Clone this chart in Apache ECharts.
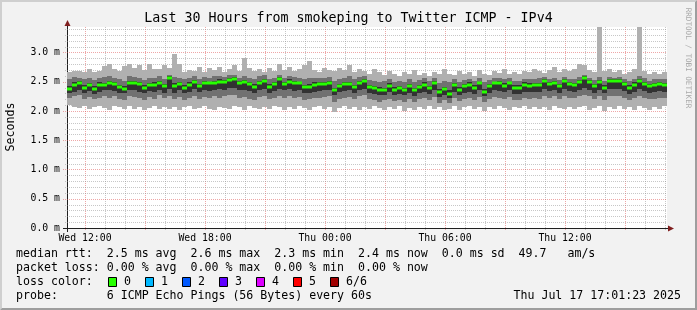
<!DOCTYPE html>
<html>
<head>
<meta charset="utf-8">
<script src="https://cdn.jsdelivr.net/npm/echarts@6/dist/echarts.min.js"></script>
<style>
html,body{margin:0;padding:0;background:#f2f2f2;}
#c{width:697px;height:310px;}
</style>
</head>
<body>
<div id="c"></div>
<script>
// ---- data: 120 columns of 15 minutes, values in milliseconds ----
const pingMin = [
2.10,2.06,2.05,2.08,2.04,2.07,2.09,2.05,2.02,2.08,
2.06,2.04,2.09,2.03,2.07,2.01,2.05,2.08,2.03,2.06,
2.04,2.07,2.02,2.06,2.08,2.03,2.05,2.09,2.04,2.01,
2.07,2.05,2.03,2.08,2.06,2.02,2.09,2.05,2.03,2.07,
2.04,2.08,2.06,2.02,2.07,2.04,2.09,2.05,2.01,2.06,
2.08,2.03,2.06,1.99,2.05,2.08,2.03,2.07,2.02,2.06,
2.04,2.09,2.05,2.01,2.07,2.03,2.08,2.00,2.05,2.02,
2.07,2.04,2.09,2.03,2.06,2.01,2.04,2.08,2.02,2.06,
2.09,2.03,2.06,2.00,2.07,2.04,2.08,2.05,2.02,2.07,
2.05,2.09,2.03,2.07,2.04,2.06,2.01,2.08,2.05,2.03,
2.07,2.04,2.06,2.09,2.02,2.05,2.08,2.00,2.06,2.03,
2.08,2.04,2.07,2.02,2.09,2.05,2.01,2.06,2.04,2.08];
const ping2 = [
2.22,2.25,2.27,2.21,2.24,2.20,2.23,2.26,2.22,2.25,
2.21,2.19,2.26,2.24,2.22,2.18,2.24,2.21,2.27,2.22,
2.26,2.20,2.24,2.19,2.23,2.26,2.21,2.24,2.22,2.25,
2.23,2.25,2.27,2.28,2.23,2.24,2.21,2.19,2.24,2.26,
2.20,2.23,2.26,2.22,2.25,2.22,2.24,2.19,2.20,2.23,
2.22,2.24,2.25,2.16,2.21,2.23,2.24,2.20,2.25,2.27,
2.20,2.18,2.16,2.19,2.21,2.17,2.19,2.16,2.20,2.15,
2.20,2.22,2.18,2.24,2.14,2.18,2.13,2.22,2.17,2.20,
2.22,2.18,2.24,2.15,2.20,2.24,2.23,2.21,2.24,2.18,
2.19,2.22,2.21,2.23,2.21,2.26,2.23,2.25,2.20,2.26,
2.23,2.22,2.25,2.28,2.25,2.20,2.25,2.19,2.26,2.25,
2.26,2.23,2.18,2.22,2.26,2.23,2.20,2.21,2.23,2.22];
const ping3 = [
2.30,2.33,2.36,2.31,2.34,2.29,2.33,2.35,2.36,2.34,
2.31,2.30,2.36,2.35,2.33,2.30,2.34,2.32,2.36,2.31,
2.38,2.31,2.35,2.30,2.33,2.37,2.32,2.35,2.34,2.36,
2.37,2.36,2.39,2.40,2.35,2.36,2.34,2.31,2.36,2.38,
2.31,2.34,2.38,2.35,2.37,2.34,2.35,2.30,2.31,2.33,
2.34,2.35,2.36,2.27,2.32,2.34,2.35,2.31,2.36,2.38,
2.31,2.29,2.27,2.28,2.32,2.27,2.29,2.27,2.31,2.26,
2.31,2.33,2.29,2.35,2.24,2.28,2.22,2.33,2.27,2.31,
2.33,2.29,2.35,2.25,2.31,2.35,2.34,2.32,2.35,2.29,
2.29,2.33,2.32,2.33,2.32,2.38,2.34,2.36,2.31,2.37,
2.34,2.33,2.36,2.40,2.36,2.31,2.36,2.30,2.37,2.37,
2.38,2.34,2.29,2.33,2.38,2.34,2.31,2.32,2.34,2.33];
const ping4 = [
2.43,2.49,2.51,2.45,2.48,2.42,2.49,2.48,2.51,2.50,
2.45,2.42,2.51,2.52,2.50,2.45,2.48,2.49,2.52,2.46,
2.59,2.47,2.49,2.45,2.49,2.53,2.46,2.51,2.50,2.51,
2.54,2.53,2.56,2.58,2.51,2.53,2.50,2.46,2.52,2.55,
2.46,2.50,2.58,2.50,2.54,2.51,2.50,2.45,2.46,2.49,
2.50,2.49,2.51,2.40,2.46,2.50,2.49,2.45,2.52,2.55,
2.45,2.43,2.41,2.40,2.47,2.41,2.43,2.40,2.46,2.40,
2.45,2.49,2.43,2.51,2.38,2.41,2.35,2.48,2.41,2.46,
2.49,2.44,2.50,2.38,2.46,2.50,2.51,2.47,2.50,2.44,
2.44,2.49,2.47,2.48,2.48,2.54,2.50,2.52,2.46,2.54,
2.50,2.48,2.53,2.59,2.53,2.46,2.53,2.45,2.54,2.55,
2.54,2.50,2.44,2.49,2.55,2.50,2.46,2.48,2.50,2.48];
const ping5 = [
2.55,2.58,2.56,2.54,2.57,2.53,2.56,2.58,2.60,2.57,
2.54,2.52,2.60,2.58,2.57,2.53,2.56,2.57,2.59,2.55,
2.62,2.58,2.57,2.54,2.56,2.60,2.55,2.58,2.57,2.59,
2.60,2.58,2.61,2.62,2.57,2.60,2.56,2.54,2.59,2.61,
2.55,2.57,2.62,2.57,2.60,2.58,2.57,2.54,2.56,2.57,
2.57,2.56,2.58,2.52,2.55,2.57,2.59,2.54,2.58,2.60,
2.53,2.52,2.50,2.52,2.54,2.50,2.52,2.50,2.54,2.49,
2.53,2.56,2.51,2.57,2.48,2.52,2.50,2.55,2.50,2.53,
2.55,2.52,2.56,2.49,2.53,2.56,2.57,2.54,2.56,2.52,
2.51,2.55,2.54,2.55,2.56,2.58,2.55,2.57,2.53,2.58,
2.55,2.54,2.58,2.61,2.57,2.53,2.58,2.52,2.58,2.57,
2.58,2.55,2.51,2.55,2.59,2.56,2.52,2.54,2.55,2.55];
const pingMax = [
2.66,2.69,2.69,2.66,2.72,2.66,2.68,2.76,2.80,2.71,
2.69,2.76,2.80,2.73,2.79,2.70,2.80,2.72,2.71,2.78,
2.74,2.98,2.80,2.67,2.70,2.68,2.75,2.66,2.73,2.70,
2.75,2.66,2.72,2.78,2.69,2.90,2.74,2.68,2.71,2.66,
2.73,2.69,2.81,2.70,2.75,2.68,2.72,2.78,2.86,2.70,
2.67,2.73,2.70,2.68,2.74,2.70,2.78,2.66,2.72,2.69,
2.64,2.71,2.66,2.62,2.68,2.64,2.60,2.66,2.63,2.70,
2.62,2.65,2.60,2.67,2.63,2.72,2.64,2.61,2.68,2.63,
2.66,2.60,2.70,2.64,2.62,2.68,2.65,2.71,2.63,2.67,
2.64,2.69,2.66,2.72,2.68,2.65,2.70,2.75,2.67,2.72,
2.68,2.71,2.81,2.78,2.70,2.66,3.60,2.68,2.72,2.66,
2.70,2.64,2.67,2.71,3.60,2.68,2.63,2.66,2.64,2.67];
const median = [
2.38,2.45,2.48,2.40,2.44,2.37,2.45,2.45,2.47,2.46,
2.41,2.37,2.48,2.48,2.46,2.40,2.45,2.45,2.48,2.42,
2.56,2.42,2.46,2.40,2.45,2.50,2.42,2.47,2.47,2.47,
2.50,2.50,2.53,2.55,2.47,2.49,2.46,2.41,2.48,2.52,
2.41,2.46,2.55,2.46,2.50,2.47,2.47,2.41,2.41,2.45,
2.46,2.46,2.47,2.35,2.42,2.46,2.46,2.41,2.48,2.52,
2.41,2.39,2.36,2.36,2.43,2.36,2.39,2.36,2.42,2.35,
2.41,2.45,2.39,2.48,2.32,2.37,2.29,2.45,2.36,2.42,
2.45,2.39,2.47,2.33,2.42,2.47,2.47,2.43,2.47,2.39,
2.39,2.45,2.43,2.44,2.44,2.51,2.46,2.48,2.42,2.51,
2.46,2.44,2.49,2.56,2.49,2.42,2.49,2.40,2.51,2.51,
2.51,2.46,2.39,2.45,2.52,2.46,2.42,2.44,2.46,2.44];

const xTickLabels = ['Wed 12:00', 'Wed 18:00', 'Thu 00:00', 'Thu 06:00', 'Thu 12:00'];
const lossLabels = ['0', '1', '2', '3', '4', '5', '6/6'];
const lossColors = ['#26ff00', '#00b8ff', '#0059ff', '#5e00ff', '#dd00ff', '#ff0000', '#a10000'];
const titleText = 'Last 30 Hours from smokeping to Twitter ICMP - IPv4';
const legendLines = [
  'median rtt:  2.5 ms avg  2.6 ms max  2.3 ms min  2.4 ms now  0.0 ms sd  49.7   am/s',
  'packet loss: 0.00 % avg  0.00 % max  0.00 % min  0.00 % now',
  'loss color:',
  'probe:       6 ICMP Echo Pings (56 Bytes) every 60s'
];
const stampText = 'Thu Jul 17 17:01:23 2025';

// ---- chart ----
const MONO = '"DejaVu Sans Mono", monospace';
const COLS = median.length;           // 15-minute columns
const firstLabelQ = 3.6;              // Wed 12:00 sits 54 min after the graph start
const yMax = 3.435;

const smokeData = median.map((m, i) => [i, pingMin[i], ping2[i], ping3[i], ping4[i], ping5[i], pingMax[i], m]);

const gridData = [];
for (let h = 0; h < 30; h++) {
  const q = firstLabelQ + h * 4;
  if (q < COLS) gridData.push([q, 0, 0, h % 3 === 0 ? 1 : 0]);
}
for (let j = 1; j * 0.1 < yMax; j++) gridData.push([0, +(j * 0.1).toFixed(1), 1, j % 5 === 0 ? 1 : 0]);

const chart = echarts.init(document.getElementById('c'), null, {renderer: 'canvas', width: 697, height: 310});

const graphics = [];
// 3D border
graphics.push({type: 'polygon', shape: {points: [[0,0],[697,0],[695,2],[2,2],[2,308],[0,310]]}, style: {fill: '#cfcfcf'}, silent: true});
graphics.push({type: 'polygon', shape: {points: [[697,0],[697,310],[0,310],[2,308],[695,308],[695,2]]}, style: {fill: '#9e9e9e'}, silent: true});
// title
graphics.push({type: 'text', x: 348.5, y: 18.5, style: {text: titleText, font: '13.3px ' + MONO, fill: '#000', align: 'center', verticalAlign: 'middle'}, silent: true});
// unit label
graphics.push({type: 'text', x: 11, y: 127, rotation: Math.PI / 2, style: {text: 'Seconds', font: '11.6px ' + MONO, fill: '#000', align: 'center', verticalAlign: 'middle'}, silent: true});
// watermark
graphics.push({type: 'text', x: 688, y: 58, rotation: -Math.PI / 2, style: {text: 'RRDTOOL / TOBI OETIKER', font: '7.6px ' + MONO, fill: '#aaaaaa', align: 'center', verticalAlign: 'middle'}, silent: true});
// axis extensions and arrows
graphics.push({type: 'line', shape: {x1: 67.5, y1: 24, x2: 67.5, y2: 27}, style: {stroke: '#1f1f1f', lineWidth: 1}, silent: true});
graphics.push({type: 'line', shape: {x1: 63, y1: 228.5, x2: 67, y2: 228.5}, style: {stroke: '#1f1f1f', lineWidth: 1}, silent: true});
graphics.push({type: 'line', shape: {x1: 67.5, y1: 228, x2: 67.5, y2: 232}, style: {stroke: '#1f1f1f', lineWidth: 1}, silent: true});
graphics.push({type: 'line', shape: {x1: 667, y1: 228.5, x2: 670, y2: 228.5}, style: {stroke: '#1f1f1f', lineWidth: 1}, silent: true});
graphics.push({type: 'polygon', shape: {points: [[67.5,20],[64.5,26],[70.5,26]]}, style: {fill: '#801f1f'}, silent: true});
graphics.push({type: 'polygon', shape: {points: [[674,228.5],[668,225.5],[668,231.5]]}, style: {fill: '#801f1f'}, silent: true});
// legend lines
const rowY = [254, 268, 282, 296];
legendLines.forEach((t, i) => {
  graphics.push({type: 'text', x: 16, y: rowY[i], style: {text: t, font: '11.6px ' + MONO, fill: '#000', align: 'left', verticalAlign: 'middle'}, silent: true});
});
lossLabels.forEach((t, i) => {
  const bx = 108 + 37 * i;
  graphics.push({type: 'rect', shape: {x: bx + 0.5, y: 277.5, width: 8, height: 9}, style: {fill: lossColors[i], stroke: '#000', lineWidth: 1}, silent: true});
  graphics.push({type: 'text', x: bx + 16, y: rowY[2], style: {text: t, font: '11.6px ' + MONO, fill: '#000', align: 'left', verticalAlign: 'middle'}, silent: true});
});
graphics.push({type: 'text', x: 681, y: rowY[3], style: {text: stampText, font: '11.6px ' + MONO, fill: '#000', align: 'right', verticalAlign: 'middle'}, silent: true});

chart.setOption({
  animation: false,
  backgroundColor: '#f2f2f2',
  grid: {left: 67, right: 30, top: 27, bottom: 82, show: true, backgroundColor: '#ffffff', borderWidth: 0, containLabel: false},
  xAxis: {
    type: 'value', min: 0, max: COLS,
    axisLine: {show: true, onZero: false, lineStyle: {color: '#1f1f1f', width: 1}},
    axisTick: {show: false},
    splitLine: {show: false},
    axisLabel: {
      show: true,
      customValues: xTickLabels.map((_, i) => firstLabelQ + 24 * i),
      formatter: function (v) {
        const i = Math.round((v - firstLabelQ) / 24);
        return Math.abs(firstLabelQ + 24 * i - v) < 1e-6 && xTickLabels[i] ? xTickLabels[i] : '';
      },
      margin: 5, fontFamily: MONO, fontSize: 9.8, color: '#000'
    }
  },
  yAxis: {
    type: 'value', min: 0, max: yMax, interval: 0.5,
    axisLine: {show: true, lineStyle: {color: '#1f1f1f', width: 1}},
    axisTick: {show: false},
    splitLine: {show: false},
    axisLabel: {
      margin: 7, fontFamily: MONO, fontSize: 9.8, color: '#000',
      formatter: function (v) {
        return Math.abs(v * 2 - Math.round(v * 2)) < 1e-6 ? v.toFixed(1) + ' m' : '';
      }
    }
  },
  series: [
    {
      type: 'custom', name: 'grid', silent: true, z: 1,
      data: gridData,
      encode: {x: 0, y: 1},
      renderItem: function (params, api) {
        const kind = api.value(2), major = api.value(3);
        const cs = params.coordSys;
        const color = major ? 'rgba(222,79,79,0.5)' : 'rgba(143,143,143,0.5)';
        let shape;
        if (kind === 0) {
          const x = Math.round(api.coord([api.value(0), 0])[0]) + 0.5;
          shape = {x1: x, y1: cs.y, x2: x, y2: cs.y + cs.height + (major ? 3 : 2)};
        } else {
          const y = Math.round(api.coord([0, api.value(1)])[1]) + 0.5;
          shape = {x1: cs.x - (major ? 4 : 2), y1: y, x2: cs.x + cs.width, y2: y};
        }
        return {type: 'line', shape: shape, style: {stroke: color, lineWidth: 1, lineDash: [1, 1]}};
      }
    },
    {
      type: 'custom', name: 'smoke', silent: true, z: 2,
      data: smokeData,
      encode: {x: 0, y: [1, 6]},
      renderItem: function (params, api) {
        const i = api.value(0);
        const cs = params.coordSys;
        const xa = Math.round(api.coord([i, 0])[0]);
        const xb = Math.round(api.coord([i + 1, 0])[0]);
        const Y = v => Math.round(Math.max(api.coord([i, v])[1], cs.y));
        const band = (lo, hi, color) => ({
          type: 'rect',
          shape: {x: xa, y: Y(hi), width: xb - xa, height: Y(lo) - Y(hi)},
          style: {fill: color}
        });
        const ym = Math.round(api.coord([i, api.value(7)])[1]);
        return {
          type: 'group',
          children: [
            band(api.value(1), api.value(6), '#b0b0b0'),
            band(api.value(2), api.value(5), '#717171'),
            band(api.value(3), api.value(4), '#323232'),
            {type: 'rect', shape: {x: xa, y: ym - 1.5, width: xb - xa, height: 3}, style: {fill: lossColors[0]}}
          ]
        };
      }
    }
  ],
  graphic: graphics
});
</script>
</body>
</html>
